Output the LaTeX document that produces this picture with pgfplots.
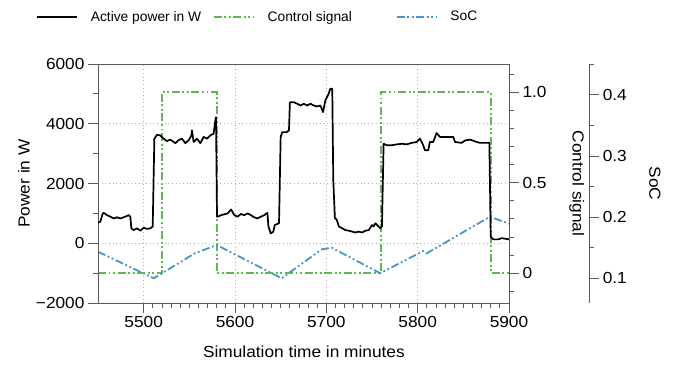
\documentclass[border=0pt]{standalone}
\usepackage{pgfplots}
\pgfplotsset{compat=1.18}
\usepackage{fontspec}
\setmainfont{Liberation Sans}
\newfontfamily\axfont{Liberation Sans}[FakeStretch=1.08]
\definecolor{cgreen}{RGB}{92,186,80}
\definecolor{cblue}{RGB}{70,150,200}
\definecolor{axgray}{RGB}{90,90,90}
\newcommand{\labfont}{\axfont\fontsize{16}{18}\selectfont}
\pgfplotsset{
  common/.style={
    at={(0,0)}, anchor=south west,
    height=239pt, scale only axis,
    scaled ticks=false,
    tick align=outside,
    major tick length=10pt, minor tick length=5pt,
    axis line style={axgray, line width=0.8pt},
    every tick/.style={axgray, line width=0.8pt},
    tick label style={font=\labfont, black},
  },
  ctrl/.style={cgreen, line width=1.8pt, dash pattern=on 8pt off 2.6pt on 1.9pt off 2.6pt on 1.9pt off 2.6pt},
  socs/.style={cblue, line width=1.8pt, dash pattern=on 8pt off 2.6pt on 1.9pt off 2.6pt on 1.9pt off 2.6pt},
  pow/.style={black, line width=1.7pt, line join=round},
}
\begin{document}
\begin{tikzpicture}
% Control signal axis
\begin{axis}[common,
  width=411pt,
  xmin=5450, xmax=5900, ymin=-0.165, ymax=1.156,
  axis x line=none, axis y line*=right,
  ytick={0,0.5,1}, yticklabels={0,0.5,1.0},
  minor ytick={-0.1,0.1,0.2,0.3,0.4,0.6,0.7,0.8,0.9,1.1},
  every axis y label/.style={at={(axis description cs:1.165,0.5)}, anchor=center, rotate=-90, font=\labfont},
  ylabel={Control signal},
]
\addplot[ctrl] coordinates {
(5450,0) (5520,0) (5520,1) (5580,1) (5580,0) (5760,0) (5760,1) (5880,1) (5880,0) (5900,0)
};
\end{axis}
% SoC axis
\begin{axis}[common,
  width=491.3pt,
  xmin=5450, xmax=5987.9, ymin=0.06, ymax=0.45,
  axis x line=none, axis y line*=right,
  ytick={0.1,0.2,0.3,0.4}, yticklabels={0.1,0.2,0.3,0.4},
  minor ytick={0.15,0.25,0.35,0.45},
  every axis y label/.style={at={(axis description cs:1.1337,0.5)}, anchor=center, rotate=-90, font=\labfont},
  ylabel={SoC},
]
\addplot[socs] coordinates {
(5450,0.1437) (5511,0.1003) (5556,0.1411) (5580,0.1546) (5651,0.1003)
(5695,0.1476) (5706,0.1502) (5759,0.1085) (5806,0.1448) (5810,0.1411)
(5879,0.2008) (5900,0.1895)
};
\end{axis}
% Main power axis
\begin{axis}[common,
  width=411pt,
  xmin=5450, xmax=5900, ymin=-2000, ymax=6000,
  xtick={5500,5600,5700,5800,5900}, xticklabels={5500,5600,5700,5800,5900},
  minor x tick num=9,
  ytick={-2000,0,2000,4000,6000}, yticklabels={−2000,0,2000,4000,6000},
  minor y tick num=1,
  xtick pos=bottom, ytick pos=left,
  xmajorgrids, ymajorgrids,
  grid style={gray!60, line width=0.6pt, dash pattern=on 0.7pt off 3pt},
  every axis x label/.style={at={(axis description cs:0.501,-0.205)}, anchor=center, font=\labfont},
  every axis y label/.style={at={(axis description cs:-0.180,0.5)}, anchor=center, rotate=90, font=\labfont},
  xlabel={Simulation time in minutes}, ylabel={Power in W},
  legend image code/.code={\draw[#1] (0pt,0pt) -- (40pt,0pt);},
  legend columns=3, legend cell align=left,
  legend style={at={(axis description cs:-0.151,1.197)}, anchor=west, draw=none, fill=none, inner sep=0pt,
    font=\fontsize{13.8}{16}\selectfont,
    /tikz/every odd column/.append style={column sep=11pt}},
]
\addplot[pow] coordinates {
(5450,690) (5452.6,720) (5455,980) (5456.2,1020) (5459.9,940) (5463.5,890)
(5467.2,830) (5470.8,870) (5474.5,830) (5479.9,890) (5483.6,940) (5485.4,890)
(5486.5,500) (5489,440) (5492.7,500) (5496.4,420) (5500,520) (5503.6,480)
(5507.3,500) (5509.9,560) (5511.7,3500) (5514.6,3630) (5518.2,3610) (5521.9,3500)
(5525.5,3420) (5529.2,3470) (5534.7,3350) (5538.3,3450) (5542,3500) (5545.6,3350)
(5549.3,3450) (5552.2,3600) (5552.9,3780) (5554.7,3390) (5558.4,3500) (5562,3350)
(5565.7,3560) (5569.3,3500) (5573,3610) (5576.6,3670) (5578.5,4110) (5579.2,4220)
(5580.3,890) (5581,890) (5584.8,940) (5588.4,970) (5592,1000) (5595.7,1130)
(5599.3,940) (5602.9,890) (5606.5,980) (5610.1,940) (5613.8,1000) (5617.4,940)
(5621,870) (5624.6,830) (5628.3,890) (5631.9,940) (5635.5,1020) (5636.6,560)
(5639.1,330) (5642,390) (5643.5,610) (5648.2,670) (5650,3560) (5651.8,3720)
(5656.5,3720) (5659.1,3780) (5660.1,4720) (5664.5,4720) (5668.1,4670) (5671.7,4610)
(5675.4,4670) (5679,4610) (5682.6,4670) (5686.2,4610) (5689.9,4580) (5693.5,4610)
(5696.4,4390) (5698.9,4780) (5702.5,5000) (5704.3,5170) (5706.5,5170) (5707.6,2110)
(5709.4,830) (5711.2,800) (5713.8,560) (5717.4,500) (5721,440) (5724.6,420)
(5728.3,390) (5731.9,360) (5735.5,390) (5739.1,360) (5742.8,420) (5746.4,440)
(5750,610) (5751.8,560) (5753.6,670) (5757.2,560) (5759.1,500) (5760.9,560)
(5762.7,3330) (5766.3,3280) (5771.7,3280) (5777.2,3310) (5782.6,3330) (5788,3310)
(5793.5,3360) (5798.9,3390) (5802.5,3500) (5805.4,3330) (5808,3110) (5811.6,3110)
(5813.4,3390) (5817,3390) (5820.7,3690) (5824.3,3560) (5835.1,3560) (5839,3560)
(5840.9,3390) (5848.2,3360) (5851.8,3440) (5857.3,3470) (5864.6,3390) (5868.2,3360)
(5878.5,3360) (5880,220) (5882.8,130) (5888.3,130) (5892,170) (5900,130)
};
\addlegendentry{\makebox[120pt][l]{Active power in W}}
\addlegendimage{ctrl}
\addlegendentry{\makebox[126pt][l]{Control signal}}
\addlegendimage{socs}
\addlegendentry{SoC}
\end{axis}
\pgfresetboundingbox
\useasboundingbox (-98pt,-64pt) rectangle (580pt,303pt);
\end{tikzpicture}
\end{document}
